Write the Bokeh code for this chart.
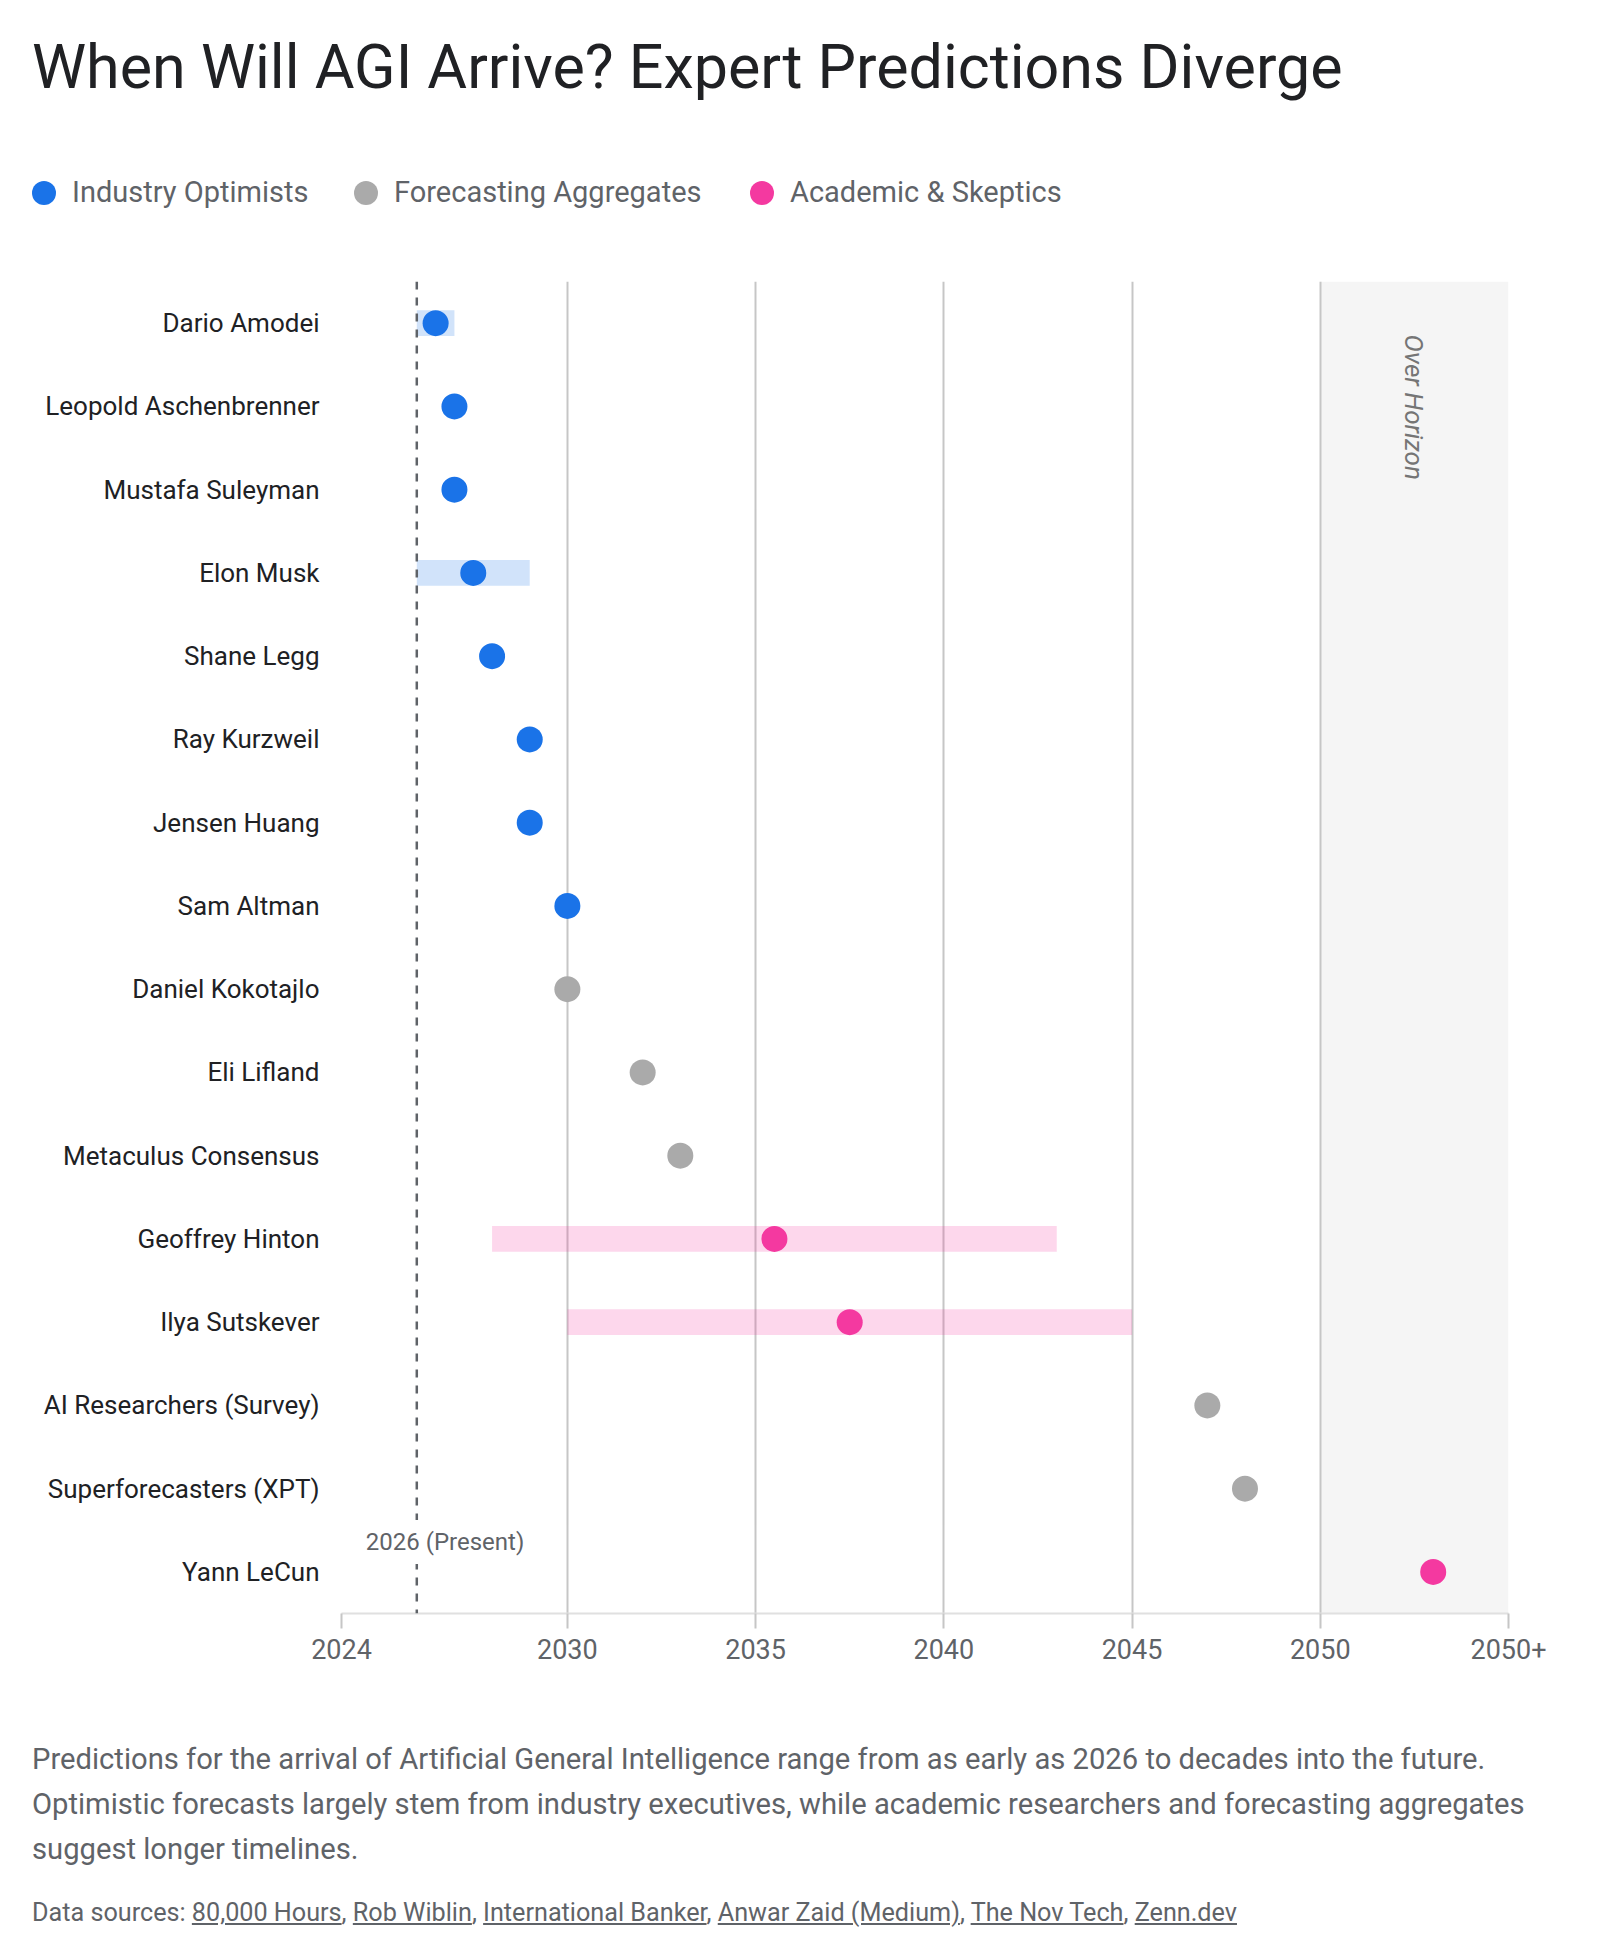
import math

from bokeh.embed import file_html
from bokeh.layouts import column
from bokeh.models import (BoxAnnotation, ColumnDataSource, Div, FixedTicker,
                          Label, Range1d, Span)
from bokeh.plotting import figure
from bokeh.resources import INLINE

# ---------------------------------------------------------------- data
TITLE = "When Will AGI Arrive? Expert Predictions Diverge"

names = [
    "Dario Amodei", "Leopold Aschenbrenner", "Mustafa Suleyman", "Elon Musk",
    "Shane Legg", "Ray Kurzweil", "Jensen Huang", "Sam Altman",
    "Daniel Kokotajlo", "Eli Lifland", "Metaculus Consensus", "Geoffrey Hinton",
    "Ilya Sutskever", "AI Researchers (Survey)", "Superforecasters (XPT)", "Yann LeCun",
]
groups = (
    ["Industry Optimists"] * 8
    + ["Forecasting Aggregates"] * 3
    + ["Academic & Skeptics"] * 2
    + ["Forecasting Aggregates"] * 2
    + ["Academic & Skeptics"]
)
predicted_year = [2026.5, 2027, 2027, 2027.5, 2028, 2029, 2029, 2030,
                  2030, 2032, 2033, 2035.5, 2037.5, 2047, 2048, 2053]
range_start = [2026, None, None, 2026, None, None, None, None,
               None, None, None, 2028, 2030, None, None, None]
range_end = [2027, None, None, 2029, None, None, None, None,
             None, None, None, 2043, 2045, None, None, None]

category_names = ["Industry Optimists", "Forecasting Aggregates", "Academic & Skeptics"]
category_colors = ["#1a73e8", "#aaaaaa", "#f439a0"]

year_ticks = [2024, 2030, 2035, 2040, 2045, 2050, 2055]
year_tick_labels = ["2024", "2030", "2035", "2040", "2045", "2050", "2050+"]
axis_start, axis_end = 2024, 2055
present_year = 2026
horizon_start = 2050

summary_lines = [
    "Predictions for the arrival of Artificial General Intelligence range from as early as 2026 to decades into the future.",
    "Optimistic forecasts largely stem from industry executives, while academic researchers and forecasting aggregates",
    "suggest longer timelines.",
]
sources = ["80,000 Hours", "Rob Wiblin", "International Banker",
           "Anwar Zaid (Medium)", "The Nov Tech", "Zenn.dev"]

# ---------------------------------------------------------------- styling
FONT = "Roboto"
INK = "#202124"
MUTED = "#5f6368"
GRID = "#c6c6c6"
color_of = dict(zip(category_names, category_colors))
row_colors = [color_of[g] for g in groups]

# ---------------------------------------------------------------- sources
rows = list(range(len(names)))
point_src = ColumnDataSource(dict(y=rows, x=predicted_year, color=row_colors,
                                  name=names, group=groups))

bar_rows = [i for i in rows if range_start[i] is not None]
bar_src = ColumnDataSource(dict(
    y=bar_rows,
    left=[range_start[i] for i in bar_rows],
    right=[range_end[i] for i in bar_rows],
    color=[row_colors[i] for i in bar_rows],
))

# ---------------------------------------------------------------- chart
p = figure(
    width=1600, height=1460,
    x_range=Range1d(axis_start, axis_end),
    y_range=Range1d(len(names) - 0.5, -0.5),
    output_backend="svg", toolbar_location=None,
    min_border_left=341, min_border_right=92,
    min_border_top=41, min_border_bottom=87,
    margin=0,
)
p.outline_line_color = None
p.background_fill_color = "white"
p.border_fill_color = "white"

# shaded "over horizon" zone, beneath the grid
p.add_layout(BoxAnnotation(left=horizon_start, right=axis_end,
                           fill_color="#f5f5f5", fill_alpha=1.0,
                           line_color=None, level="image"))

# prediction ranges and point estimates
p.hbar(y="y", left="left", right="right", height=0.31, source=bar_src,
       fill_color="color", fill_alpha=0.2, line_color=None)
p.scatter(x="x", y="y", size=26, source=point_src,
          fill_color="color", line_color=None)

# present-day marker
p.add_layout(Span(location=present_year, dimension="height",
                  line_color=MUTED, line_width=2.5, line_dash="8 8"))
p.add_layout(Label(x=present_year, y=14.64, x_offset=-59,
                   text=f"{present_year} (Present)",
                   text_font=FONT, text_font_size="24px", text_color=MUTED,
                   text_align="left", text_baseline="middle",
                   background_fill_color="white", background_fill_alpha=1.0,
                   padding=8))

p.add_layout(Label(x=(horizon_start + axis_end) / 2, y=-0.5, y_offset=-53,
                   text="Over Horizon", angle=-math.pi / 2,
                   text_font=FONT, text_font_size="26px",
                   text_font_style="italic", text_color="#757575",
                   text_align="left", text_baseline="middle"))

# grid
p.ygrid.grid_line_color = None
p.xgrid.ticker = FixedTicker(ticks=year_ticks)
p.xgrid.grid_line_color = GRID
p.xgrid.grid_line_width = 2

# x axis
xa = p.xaxis[0]
xa.ticker = FixedTicker(ticks=year_ticks)
xa.major_label_overrides = dict(zip(year_ticks, year_tick_labels))
xa.axis_line_color = "#e0e0e0"
xa.axis_line_width = 2
xa.major_tick_in = 0
xa.major_tick_out = 15
xa.major_tick_line_color = GRID
xa.major_tick_line_width = 2
xa.minor_tick_line_color = None
xa.major_label_standoff = 10
xa.major_label_text_font = FONT
xa.major_label_text_font_size = "27px"
xa.major_label_text_color = MUTED

# y axis with names
ya = p.yaxis[0]
ya.ticker = FixedTicker(ticks=rows)
ya.major_label_overrides = {i: n for i, n in enumerate(names)}
ya.axis_line_color = None
ya.major_tick_line_color = None
ya.minor_tick_line_color = None
ya.major_tick_in = 0
ya.major_tick_out = 0
ya.major_label_standoff = 22
ya.major_label_text_font = FONT
ya.major_label_text_font_size = "26px"
ya.major_label_text_color = INK

# ---------------------------------------------------------------- header
legend_x = [32, 354, 750]
legend_items = "".join(
    f'<div style="position:absolute;left:{lx}px;top:178px;height:29px;'
    f'display:flex;align-items:center;white-space:nowrap;">'
    f'<span style="display:inline-block;width:24px;height:24px;border-radius:50%;'
    f'background:{c};margin-right:16px;"></span>'
    f'<span style="font-size:29px;line-height:29px;color:{MUTED};">{n.replace("&", "&amp;")}</span></div>'
    for lx, n, c in zip(legend_x, category_names, category_colors)
)
header = Div(
    text=(
        f'<div style="position:relative;width:1600px;height:240px;font-family:{FONT};">'
        f'<div style="position:absolute;left:32px;top:37px;font-size:61px;line-height:61px;'
        f'color:{INK};white-space:nowrap;">{TITLE}</div>'
        f'{legend_items}</div>'
    ),
    width=1600, height=240, margin=0,
)

# ---------------------------------------------------------------- footer
source_links = ", ".join(
    f'<span style="text-decoration:underline;">{s}</span>' for s in sources
)
footer = Div(
    text=(
        f'<div style="position:relative;width:1600px;height:250px;font-family:{FONT};color:{MUTED};">'
        f'<div style="position:absolute;left:32px;top:37px;font-size:29.2px;line-height:45px;'
        f'white-space:nowrap;">{"<br>".join(summary_lines)}</div>'
        f'<div style="position:absolute;left:32px;top:198px;font-size:25.2px;line-height:30px;'
        f'white-space:nowrap;">Data sources: {source_links}</div>'
        f'</div>'
    ),
    width=1600, height=250, margin=0,
)

layout = column(header, p, footer, spacing=0, margin=0)

with open("out.html", "w") as f:
    f.write(file_html(layout, INLINE))
